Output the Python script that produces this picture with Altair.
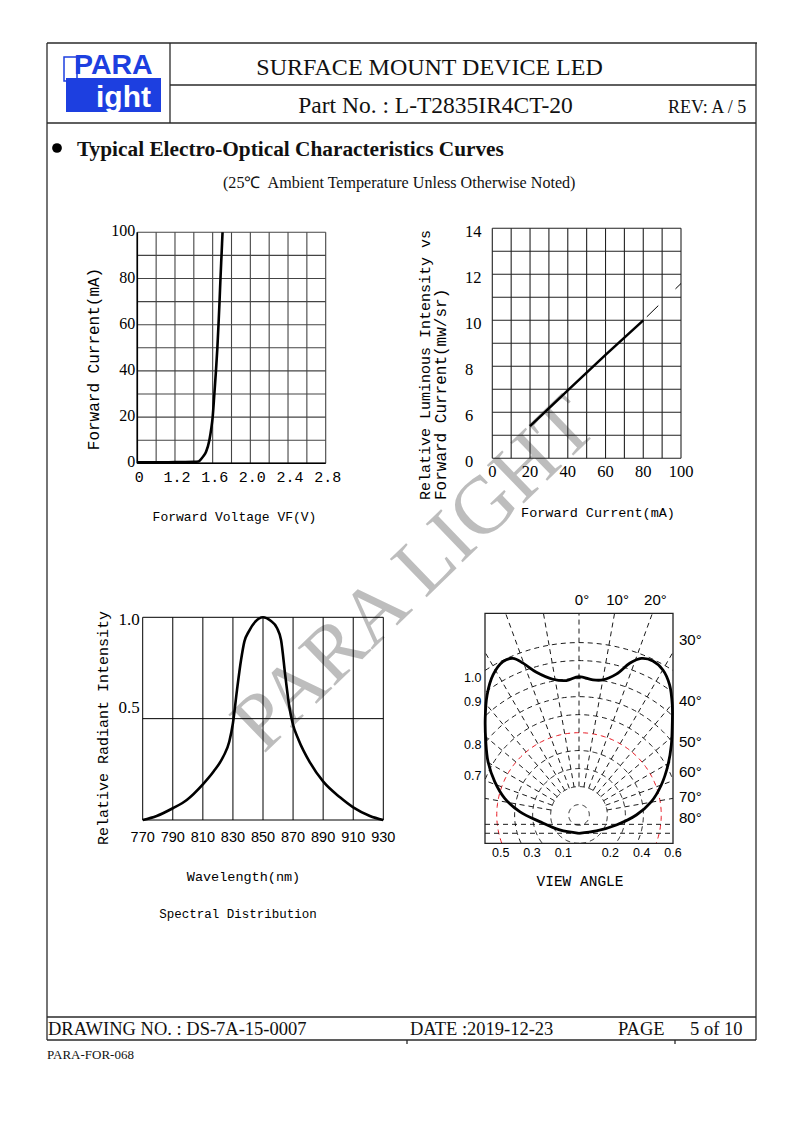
import altair as alt
import numpy as np
import pandas as pd

M = 8  # page margin of the html body

# ======================= DATA =======================
# Chart 1 : forward current vs forward voltage (first column is a broken axis labelled "0")
c1_vf = [0.80, 1.00, 1.20, 1.40, 1.45, 1.47, 1.50, 1.53, 1.565, 1.585, 1.600, 1.618,
         1.635, 1.650, 1.662, 1.673, 1.683, 1.694, 1.705]
c1_if = [0.4, 0.4, 0.5, 0.6, 0.8, 1.5, 3.0, 5.0, 10, 15, 20, 30, 40, 50, 60, 70, 80, 90, 100]
c1_xgrid = [0.8, 1.0, 1.2, 1.4, 1.6, 1.8, 2.0, 2.2, 2.4, 2.6, 2.8]
c1_ygrid = [0, 10, 20, 30, 40, 50, 60, 70, 80, 90, 100]
c1_xtick_pos = [0.8, 1.2, 1.6, 2.0, 2.4, 2.8]
c1_xtick_lab = ["0", "1.2", "1.6", "2.0", "2.4", "2.8"]
c1_ytick = [0, 20, 40, 60, 80, 100]

# Chart 2 : relative luminous intensity vs forward current (y axis broken, bottom labelled "0")
c2_if = [20, 40, 60, 80]
c2_iv = [5.4, 6.95, 8.5, 10.0]
c2_ext_if = [80, 100]
c2_ext_iv = [10.0, 11.6]
c2_xgrid = [0, 10, 20, 30, 40, 50, 60, 70, 80, 90, 100]
c2_ygrid = [4, 5, 6, 7, 8, 9, 10, 11, 12, 13, 14]
c2_xtick = [0, 20, 40, 60, 80, 100]
c2_ytick_pos = [4, 6, 8, 10, 12, 14]
c2_ytick_lab = ["0", "6", "8", "10", "12", "14"]

# Chart 3 : spectral distribution
c3_wl = [770, 779.3, 790, 799.3, 810, 817, 823.6, 827.6, 830.0, 832.7, 835.4, 837.6, 840.5,
         844.9, 850, 854.9, 859.3, 862.0, 864.9, 867.5, 869.7, 873.7, 881.3, 890.1, 901.2,
         910, 921.1, 930]
c3_rel = [0.0, 0.02, 0.058, 0.099, 0.176, 0.238, 0.313, 0.387, 0.477, 0.641, 0.789, 0.88,
          0.929, 0.979, 1.0, 0.984, 0.947, 0.888, 0.707, 0.559, 0.477, 0.395, 0.283, 0.189,
          0.112, 0.0625, 0.02, 0.0]
c3_xgrid = [770, 790, 810, 830, 850, 870, 890, 910, 930]
c3_ygrid = [0.0, 0.5, 1.0]
c3_ytick = [1.0, 0.5]
c3_ytick_lab = ["1.0", "0.5"]

# Chart 4 : radiation pattern (angle from axis in degrees, relative radius)
pol_ang = [-90, -80.2, -73.5, -69.9, -64.8, -58.5, -51.8, -45.5, -39.2, -33.6, -28.5, -23.9,
           -20.7, -18.2, -14.8, -9.6, -4.7, 0, 5.2, 8.9, 13.2, 16.6, 19.6, 23.2, 27.2, 31.4,
           36.0, 40.7, 46.3, 52.5, 59.6, 66.4, 72.3, 77.4, 82.3, 90]
pol_r = [0, 0.125, 0.262, 0.403, 0.524, 0.631, 0.739, 0.834, 0.947, 1.06, 1.15, 1.198,
         1.194, 1.143, 1.063, 0.997, 0.978, 1.0, 0.983, 0.991, 1.043, 1.132, 1.185, 1.197,
         1.172, 1.11, 1.013, 0.913, 0.815, 0.716, 0.609, 0.504, 0.384, 0.244, 0.112, 0]
pol_rings = [0.066, 0.181, 0.296, 0.411, 0.525, 0.640, 0.755, 0.870, 0.985, 1.100]
pol_red_ring = 0.525
pol_spokes = [-80, -70, -60, -50, -40, -30, -20, -10, 0, 10, 20, 30, 40, 50, 60, 70, 80]
pol_hlines = [0.0, 0.057]
pol_top_ang = [0, 10, 20]
pol_right_ang = [30, 40, 50, 60, 70, 80]
pol_right_pos = [1.234, 0.846, 0.584, 0.391, 0.232, 0.098]
pol_left_lab = ["1.0", "0.9", "0.8", "0.7"]
pol_left_pos = [0.991, 0.838, 0.563, 0.365]
pol_bottom_lab = ["0.5", "0.3", "0.1", "0.2", "0.4", "0.6"]
pol_bottom_pos = [-0.5, -0.3, -0.1, 0.2, 0.4, 0.6]

# ======================= LAYOUT (page pixels) =======================
BOX1 = (137.3, 325.7, 232.3, 463.3)   # left, right, top, bottom
BOX2 = (492.3, 681.0, 228.3, 458.3)
BOX3 = (142.7, 383.3, 617.3, 820.0)
BOX4 = (485.0, 673.0, 613.3, 843.3)
PX = (-0.6, 0.6)
PY = (-0.064, 1.404)
PC_Y = 0.117   # centre of the polar grid

SERIF = "Liberation Serif"
SANS = "Liberation Sans"
MONO = "Liberation Mono"
BLUE = "#1d3fe0"

ONE = pd.DataFrame({"k": [0]})


def xsc(dom, box):
    return alt.Scale(domain=list(dom), range=[box[0] - M, box[1] - M], nice=False, zero=False)


def ysc(dom, box):
    return alt.Scale(domain=list(dom), range=[box[3] - M, box[2] - M], nice=False, zero=False)


def vrules(vals, y0, y1, XS, YS, **mk):
    df = pd.DataFrame({"x": vals, "y0": [y0] * len(vals), "y1": [y1] * len(vals)})
    return alt.Chart(df).mark_rule(**mk).encode(
        x=alt.X("x:Q", scale=XS, axis=None),
        y=alt.Y("y0:Q", scale=YS, axis=None), y2="y1:Q")


def hrules(vals, x0, x1, XS, YS, **mk):
    df = pd.DataFrame({"y": vals, "x0": [x0] * len(vals), "x1": [x1] * len(vals)})
    return alt.Chart(df).mark_rule(**mk).encode(
        y=alt.Y("y:Q", scale=YS, axis=None),
        x=alt.X("x0:Q", scale=XS, axis=None), x2="x1:Q")


def curve(xv, yv, XS, YS, **mk):
    df = pd.DataFrame({"x": xv, "y": yv, "i": list(range(len(xv)))})
    return alt.Chart(df).mark_line(**mk).encode(
        x=alt.X("x:Q", scale=XS, axis=None),
        y=alt.Y("y:Q", scale=YS, axis=None), order="i:Q")


def ticktext(xv, yv, labels, XS, YS, **mk):
    df = pd.DataFrame({"x": xv, "y": yv, "t": labels})
    return alt.Chart(df).mark_text(**mk).encode(
        x=alt.X("x:Q", scale=XS, axis=None),
        y=alt.Y("y:Q", scale=YS, axis=None), text="t:N")


def ptext(s, x, y, **mk):
    mk.setdefault("baseline", "alphabetic")
    return alt.Chart(pd.DataFrame({"t": [s]})).mark_text(**mk).encode(
        x=alt.value(x - M), y=alt.value(y - M), text="t:N")


def prule(x1, y1, x2, y2, color="#2a2a2a", w=1.3):
    return alt.Chart(ONE).mark_rule(color=color, strokeWidth=w).encode(
        x=alt.value(x1 - M), y=alt.value(y1 - M), x2=alt.value(x2 - M), y2=alt.value(y2 - M))


def prect(x1, y1, x2, y2, **mk):
    return alt.Chart(ONE).mark_rect(**mk).encode(
        x=alt.value(x1 - M), y=alt.value(y1 - M), x2=alt.value(x2 - M), y2=alt.value(y2 - M))


layers = []

# ---------------- watermark ----------------
layers.append(ptext("PARA LIGHT", 415, 575, font=SERIF, fontSize=81, angle=316, align="center",
                    baseline="middle", color="#a8a8a8", opacity=0.75))

# ---------------- page frame ----------------
layers += [
    prule(47, 43, 757, 43), prule(47, 43, 47, 1040), prule(756, 43, 756, 1040),
    prule(170, 43, 170, 123), prule(170, 85, 756, 85), prule(47, 123, 756, 123),
    prule(47, 1017, 756, 1017), prule(47, 1040, 756, 1040),
    prule(407, 1040, 407, 1044), prule(675, 1040, 675, 1044),
]

# ---------------- logo ----------------
layers += [
    prect(64, 57, 77, 81, fill="white", stroke=BLUE, strokeWidth=1.5),
    prect(66, 78, 161, 112, color=BLUE),
    ptext("PARA", 74, 74, font=SANS, fontSize=28.5, fontWeight="bold", color=BLUE, align="left"),
    ptext("ight", 123.5, 106.5, font=SANS, fontSize=30, fontWeight="bold", color="white", align="center"),
]

# ---------------- header / titles ----------------
layers += [
    ptext("SURFACE MOUNT DEVICE LED", 429.5, 75, font=SERIF, fontSize=24, align="center", color="#111"),
    ptext("Part No. : L-T2835IR4CT-20", 435.5, 112.5, font=SERIF, fontSize=23.5, align="center", color="#111"),
    ptext("REV: A / 5", 668, 112.5, font=SERIF, fontSize=18, align="left", color="#111"),
    alt.Chart(ONE).mark_circle(size=95, color="black", opacity=1).encode(x=alt.value(57 - M), y=alt.value(148 - M)),
    ptext("Typical Electro-Optical Characteristics Curves", 77, 155.5, font=SERIF, fontSize=21.3,
          fontWeight="bold", align="left", color="#111"),
    ptext("(25\u2103\u00a0 Ambient Temperature Unless Otherwise Noted)", 223, 188, font=SERIF, fontSize=16.1,
          align="left", color="#111"),
]

# ---------------- footer ----------------
layers += [
    ptext("DRAWING NO. : DS-7A-15-0007", 48, 1035, font=SERIF, fontSize=18.5, align="left", color="#111"),
    ptext("DATE :2019-12-23", 410, 1035, font=SERIF, fontSize=18.5, align="left", color="#111"),
    ptext("PAGE", 618, 1035, font=SERIF, fontSize=18.5, align="left", color="#111"),
    ptext("5 of 10", 690, 1035, font=SERIF, fontSize=18.5, align="left", color="#111"),
    ptext("PARA-FOR-068", 47, 1059, font=SERIF, fontSize=13, align="left", color="#111"),
]

# ---------------- chart 1 ----------------
X1 = xsc((0.8, 2.8), BOX1)
Y1 = ysc((0, 100), BOX1)
layers += [
    vrules(c1_xgrid, 0, 100, X1, Y1, color="#444", strokeWidth=1.1),
    hrules(c1_ygrid, 0.8, 2.8, X1, Y1, color="#444", strokeWidth=1.1),
    vrules([0.8], 0, 100, X1, Y1, color="black", strokeWidth=1.6),
    hrules([0], 0.8, 2.8, X1, Y1, color="black", strokeWidth=1.6),
    curve(c1_vf, c1_if, X1, Y1, color="black", strokeWidth=2.6, interpolate="monotone"),
    ticktext(c1_xtick_pos, [0] * len(c1_xtick_pos), c1_xtick_lab, X1, Y1, font=MONO, fontSize=15,
             align="center", baseline="alphabetic", dy=19, dx=2, color="black"),
    ticktext([0.8] * len(c1_ytick), c1_ytick, [str(v) for v in c1_ytick], X1, Y1, font=SERIF,
             fontSize=16, align="right", baseline="middle", dx=-2, dy=-1, color="black"),
    ptext("Forward Voltage VF(V)", 234.5, 521, font=MONO, fontSize=13, align="center", color="black"),
    ptext("Forward Current(mA)", 93.5, 359, font=MONO, fontSize=16, align="center", baseline="middle",
          angle=270, color="black"),
]

# ---------------- chart 2 ----------------
X2 = xsc((0, 100), BOX2)
Y2 = ysc((4, 14), BOX2)
layers += [
    vrules(c2_xgrid, 4, 14, X2, Y2, color="#222", strokeWidth=1.1),
    hrules(c2_ygrid, 0, 100, X2, Y2, color="#222", strokeWidth=1.1),
    curve(c2_if, c2_iv, X2, Y2, color="black", strokeWidth=2.5),
    curve(c2_ext_if, c2_ext_iv, X2, Y2, color="black", strokeWidth=1, strokeDash=[16, 24],
          strokeDashOffset=35),
    ticktext(c2_xtick, [4] * len(c2_xtick), [str(v) for v in c2_xtick], X2, Y2, font=SERIF,
             fontSize=16.5, align="center", baseline="middle", dy=14, color="black"),
    alt.Chart(pd.DataFrame({"y": c2_ytick_pos, "t": c2_ytick_lab})).mark_text(
        font=SERIF, fontSize=16.5, align="left", baseline="middle", dy=4, color="black").encode(
        x=alt.value(465 - M), y=alt.Y("y:Q", scale=Y2, axis=None), text="t:N"),
    ptext("Forward Current(mA)", 598, 517, font=MONO, fontSize=13.5, align="center", color="black"),
    ptext("Relative Luminous Intensity vs", 425, 500, font=MONO, fontSize=15, align="left",
          baseline="middle", angle=270, color="black"),
    ptext("Forward Current(mw/sr)", 441, 500, font=MONO, fontSize=16, align="left",
          baseline="middle", angle=270, color="black"),
]

# ---------------- chart 3 ----------------
X3 = xsc((770, 930), BOX3)
Y3 = ysc((0, 1), BOX3)
layers += [
    vrules(c3_xgrid, 0, 1, X3, Y3, color="black", strokeWidth=1),
    hrules(c3_ygrid, 770, 930, X3, Y3, color="black", strokeWidth=1),
    curve(c3_wl, c3_rel, X3, Y3, color="black", strokeWidth=2.6, interpolate="monotone"),
    ticktext(c3_xgrid, [0] * len(c3_xgrid), [str(v) for v in c3_xgrid], X3, Y3, font=SANS,
             fontSize=14.5, align="center", baseline="alphabetic", dy=21.5, color="black"),
    ticktext([770], [c3_ytick[0]], [c3_ytick_lab[0]], X3, Y3, font=SERIF, fontSize=17,
             align="right", baseline="middle", dx=-3, dy=3, color="black"),
    ticktext([770], [c3_ytick[1]], [c3_ytick_lab[1]], X3, Y3, font=SERIF, fontSize=17,
             align="right", baseline="middle", dx=-3, dy=-11, color="black"),
    ptext("Relative Radiant Intensity", 103, 728, font=MONO, fontSize=15, align="center",
          baseline="middle", angle=270, color="black"),
    ptext("Wavelength(nm)", 243.5, 881, font=MONO, fontSize=13.5, align="center", color="black"),
    ptext("Spectral Distribution", 238, 918, font=MONO, fontSize=12.5, align="center", color="black"),
]

# ---------------- chart 4 (polar) ----------------
X4 = xsc(PX, BOX4)
Y4 = ysc(PY, BOX4)


def ring_frame(radii):
    rows = []
    seg = 0
    for r in radii:
        prev = False
        for j, a in enumerate(np.arange(180.0, 541.0, 1.0)):
            t = np.radians(a)
            x = r * np.sin(t)
            y = PC_Y + r * np.cos(t)
            ins = (PX[0] <= x <= PX[1]) and (PY[0] <= y <= PY[1])
            if ins:
                if not prev:
                    seg += 1
                rows.append({"x": x, "y": y, "seg": seg, "i": j})
            prev = ins
    return pd.DataFrame(rows)


black_rings = [r for r in pol_rings if r != pol_red_ring]
spoke_rows = []
for a in pol_spokes:
    dx, dy = np.sin(np.radians(a)), np.cos(np.radians(a))
    ts = [(PY[1] - PC_Y) / dy]
    if dx > 1e-9:
        ts.append(PX[1] / dx)
    if dx < -1e-9:
        ts.append(PX[0] / dx)
    t1 = min(ts)
    r0 = pol_rings[1]
    spoke_rows.append({"x": r0 * dx, "y": PC_Y + r0 * dy, "x2": t1 * dx, "y2": PC_Y + t1 * dy})
spokes = pd.DataFrame(spoke_rows)

pol_df = pd.DataFrame({"a": pol_ang, "r": pol_r})
pol_df["x"] = pol_df["r"] * np.sin(np.radians(pol_df["a"]))
pol_df["y"] = pol_df["r"] * np.cos(np.radians(pol_df["a"]))
pol_df["i"] = range(len(pol_df))

top_x = [np.tan(np.radians(a)) * (PY[1] - PC_Y) for a in pol_top_ang]

layers += [
    alt.Chart(ring_frame(black_rings)).mark_line(color="black", strokeWidth=0.9, strokeDash=[5, 4]).encode(
        x=alt.X("x:Q", scale=X4, axis=None), y=alt.Y("y:Q", scale=Y4, axis=None),
        detail="seg:N", order="i:Q"),
    alt.Chart(ring_frame([pol_red_ring])).mark_line(color="#e8141e", strokeWidth=1, strokeDash=[5, 4]).encode(
        x=alt.X("x:Q", scale=X4, axis=None), y=alt.Y("y:Q", scale=Y4, axis=None),
        detail="seg:N", order="i:Q"),
    alt.Chart(spokes).mark_rule(color="black", strokeWidth=0.9, strokeDash=[5, 4]).encode(
        x=alt.X("x:Q", scale=X4, axis=None), y=alt.Y("y:Q", scale=Y4, axis=None),
        x2="x2:Q", y2="y2:Q"),
    hrules(pol_hlines, PX[0], PX[1], X4, Y4, color="black", strokeWidth=0.9, strokeDash=[5, 4]),
    alt.Chart(ONE.assign(x0=PX[0], x1=PX[1], y0=PY[0], y1=PY[1])).mark_rect(
        fill=None, stroke="#222", strokeWidth=1.3).encode(
        x=alt.X("x0:Q", scale=X4, axis=None), x2="x1:Q",
        y=alt.Y("y0:Q", scale=Y4, axis=None), y2="y1:Q"),
    alt.Chart(pol_df).mark_line(color="black", strokeWidth=2.8, interpolate="catmull-rom").encode(
        x=alt.X("x:Q", scale=X4, axis=None), y=alt.Y("y:Q", scale=Y4, axis=None), order="i:Q"),
    ticktext(top_x, [PY[1]] * 3, [f"{a}\u00b0" for a in pol_top_ang], X4, Y4, font=SANS,
             fontSize=15, align="center", baseline="alphabetic", dx=3, dy=-8.5, color="black"),
    alt.Chart(pd.DataFrame({"y": pol_right_pos, "t": [f"{a}\u00b0" for a in pol_right_ang]})).mark_text(
        font=SANS, fontSize=15, align="left", baseline="middle", color="black").encode(
        x=alt.value(679 - M), y=alt.Y("y:Q", scale=Y4, axis=None), text="t:N"),
    alt.Chart(pd.DataFrame({"y": pol_left_pos, "t": pol_left_lab})).mark_text(
        font=SANS, fontSize=12.5, align="right", baseline="middle", color="black").encode(
        x=alt.value(481.5 - M), y=alt.Y("y:Q", scale=Y4, axis=None), text="t:N"),
    ticktext(pol_bottom_pos, [PY[0]] * len(pol_bottom_pos), pol_bottom_lab, X4, Y4, font=SANS,
             fontSize=12.5, align="center", baseline="alphabetic", dy=14, color="black"),
    ptext("VIEW ANGLE", 580, 886, font=MONO, fontSize=14.5, align="center", color="black"),
]

chart = alt.layer(*layers).resolve_scale(x="independent", y="independent").properties(
    width=794 - 2 * M, height=1123 - 2 * M, padding=0,
    autosize=alt.AutoSizeParams(type="none"), background="white",
).configure_view(strokeWidth=0)

chart.save("out.html", embed_options={"renderer": "svg", "actions": False})
